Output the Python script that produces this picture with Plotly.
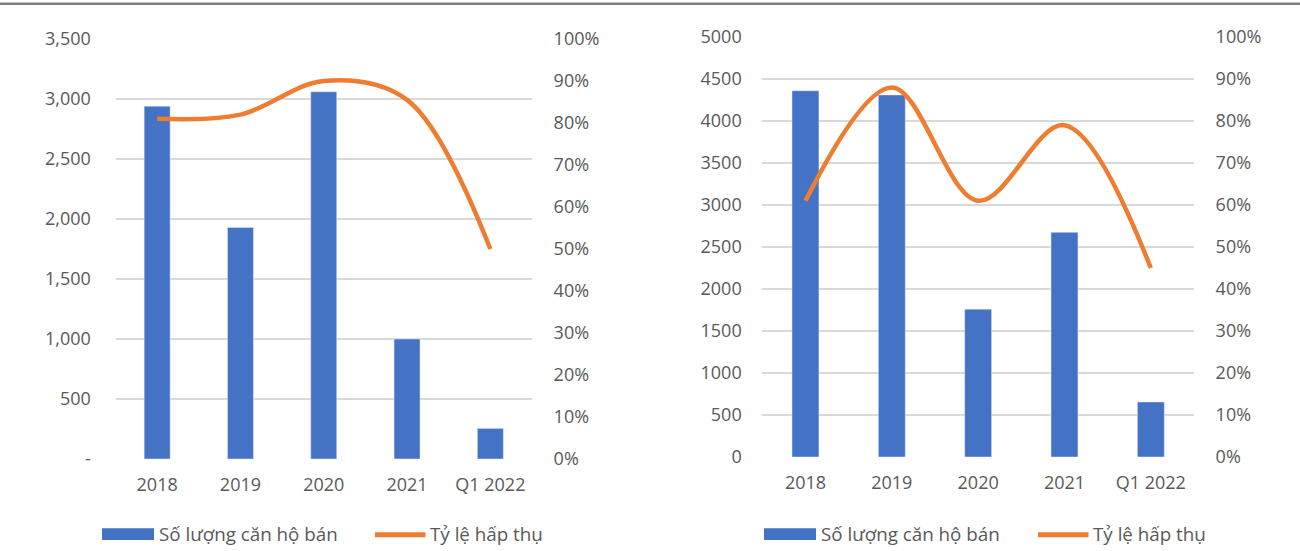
import plotly.graph_objects as go

categories = ["2018", "2019", "2020", "2021", "Q1 2022"]
left_units = [2940, 1930, 3060, 1000, 255]
left_rate = [0.81, 0.82, 0.90, 0.855, 0.50]
right_units = [4360, 4310, 1760, 2675, 655]
right_rate = [0.61, 0.88, 0.61, 0.79, 0.45]

left_ticks = [0, 500, 1000, 1500, 2000, 2500, 3000, 3500]
left_ticktext = ["-", "500", "1,000", "1,500", "2,000", "2,500", "3,000", "3,500"]

bar_name = "Số lượng căn hộ bán"
line_name = "Tỷ lệ hấp thụ"

W, H = 1300, 551
BLUE = "#4472C4"
ORANGE = "#ED7D31"
TXT = "#595959"
GRID = "#D9D9D9"
FONT = "Open Sans"
FS = 18
LFS = 18.8


def px(x):
    return x / W


def py(y):
    return (H - y) / H


fig = go.Figure()

fig.add_trace(go.Bar(x=categories, y=left_units, name=bar_name, marker_color=BLUE,
                     xaxis="x", yaxis="y", showlegend=False))
fig.add_trace(go.Scatter(x=categories, y=left_rate, name=line_name, mode="lines",
                         line=dict(color=ORANGE, width=4.5, shape="spline", smoothing=1.0),
                         xaxis="x", yaxis="y2", showlegend=False))
fig.add_trace(go.Bar(x=categories, y=right_units, name=bar_name, marker_color=BLUE,
                     xaxis="x2", yaxis="y3", showlegend=False))
fig.add_trace(go.Scatter(x=categories, y=right_rate, name=line_name, mode="lines",
                         line=dict(color=ORANGE, width=4.5, shape="spline", smoothing=1.0),
                         xaxis="x2", yaxis="y4", showlegend=False))

tickfont = dict(family=FONT, size=FS, color=TXT)
common = dict(ticks="outside", tickcolor="rgba(0,0,0,0)", automargin=False)

fig.update_layout(
    width=W, height=H,
    margin=dict(l=0, r=0, t=0, b=0, pad=0, autoexpand=False),
    paper_bgcolor="white", plot_bgcolor="white",
    bargap=0.688,
    showlegend=False,
    font=dict(family=FONT, size=FS, color=TXT),
    xaxis=dict(domain=[px(115.5), px(532)], anchor="y", showgrid=False, showline=False,
               tickfont=tickfont, ticklen=9, **common),
    yaxis=dict(domain=[py(459), py(39)], range=[0, 3500], anchor="x",
               tickvals=left_ticks, ticktext=left_ticktext,
               showgrid=True, gridcolor=GRID, gridwidth=2, zeroline=False,
               tickfont=tickfont, ticklen=20, **common),
    yaxis2=dict(overlaying="y", side="right", anchor="x", range=[0, 1], dtick=0.1,
                tickformat=".0%", showgrid=False, zeroline=False,
                tickfont=tickfont, ticklen=17, **common),
    xaxis2=dict(domain=[px(762.3), px(1194)], anchor="y3", showgrid=False, showline=False,
                tickfont=tickfont, ticklen=9, **common),
    yaxis3=dict(domain=[py(457), py(37)], range=[0, 5000], anchor="x2", dtick=500,
                tickformat="d", showgrid=True, gridcolor=GRID, gridwidth=2, zeroline=False,
                tickfont=tickfont, ticklen=16, **common),
    yaxis4=dict(overlaying="y3", side="right", anchor="x2", range=[0, 1], dtick=0.1,
                tickformat=".0%", showgrid=False, zeroline=False,
                tickfont=tickfont, ticklen=17, **common),
)

shapes = [
    dict(type="line", xref="paper", yref="paper", x0=0, x1=1, y0=py(3.7), y1=py(3.7),
         line=dict(color="#7F7F7F", width=2.5)),
]
annotations = []
for bx, lx in [(102, 372.5), (764, 1035.5)]:
    shapes.append(dict(type="rect", xref="paper", yref="paper",
                       x0=px(bx), x1=px(bx + 52), y0=py(540), y1=py(528.3),
                       fillcolor=BLUE, line=dict(width=0)))
    shapes.append(dict(type="line", xref="paper", yref="paper",
                       x0=px(lx + 2.5), x1=px(lx + 53), y0=py(534.8), y1=py(534.8),
                       line=dict(color=ORANGE, width=5)))
    annotations.append(dict(xref="paper", yref="paper", x=px(bx + 55), y=py(534),
                            xanchor="left", yanchor="middle", text=bar_name, showarrow=False,
                            font=dict(family=FONT, size=LFS, color=TXT)))
    annotations.append(dict(xref="paper", yref="paper", x=px(lx + 55), y=py(534),
                            xanchor="left", yanchor="middle", text=line_name, showarrow=False,
                            font=dict(family=FONT, size=LFS, color=TXT)))

fig.update_layout(shapes=shapes, annotations=annotations)

fig.write_html("out.html")
